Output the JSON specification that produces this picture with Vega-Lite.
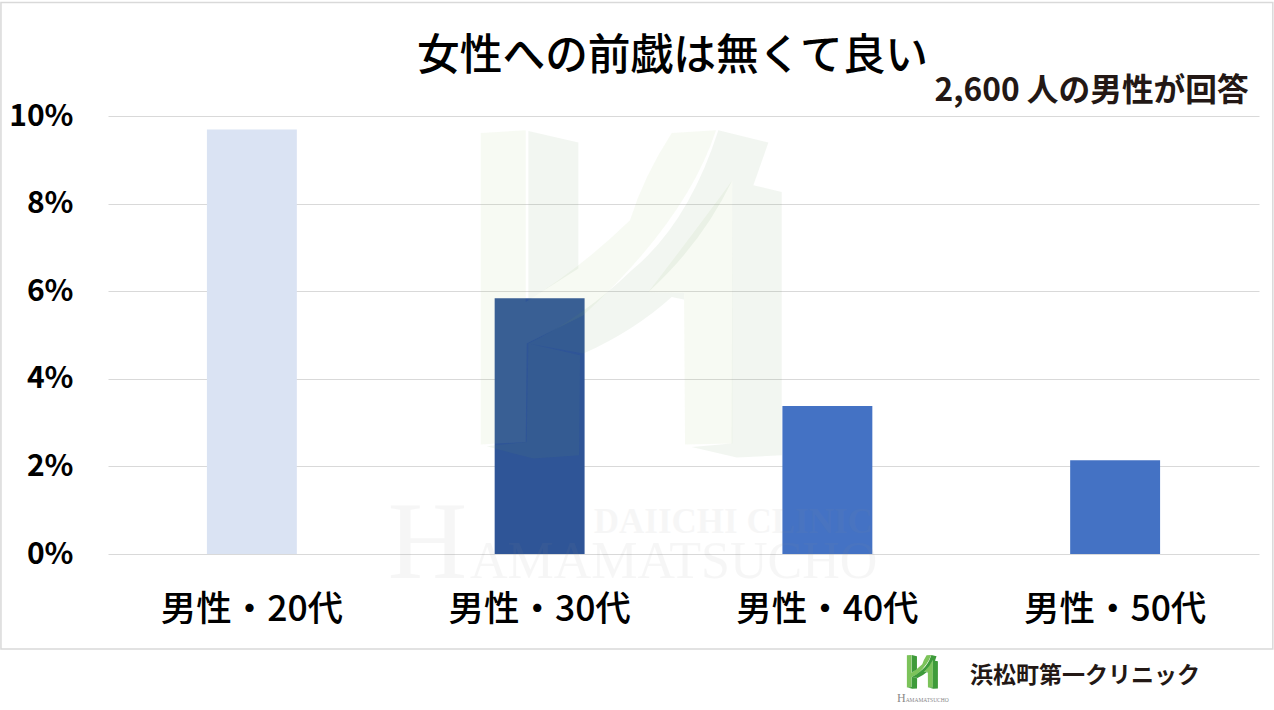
{
  "$schema": "https://vega.github.io/schema/vega-lite/v6.json",
  "description": "女性への前戯は無くて良い, by age group",
  "width": 1151,
  "height": 438,
  "autosize": "none",
  "padding": {"left": 108, "top": 116, "right": 15, "bottom": 156},
  "background": "white",
  "config": {"view": {"stroke": null}, "font": "Noto Sans CJK JP"},
  "resolve": {"scale": {"x": "independent"}},
  "layer": [
    {
      "data": {
        "values": [
          {"group": "男性・20代", "rate": 9.69},
          {"group": "男性・30代", "rate": 5.84},
          {"group": "男性・40代", "rate": 3.38},
          {"group": "男性・50代", "rate": 2.14}
        ]
      },
      "mark": "bar",
      "encoding": {
        "x": {
          "field": "group",
          "type": "nominal",
          "sort": null,
          "scale": {"paddingInner": 0.6875, "paddingOuter": 0.34375},
          "axis": {
            "title": null,
            "labelAngle": 0,
            "labelFont": "Noto Sans CJK JP",
            "labelFontSize": 35.5,
            "labelFontWeight": 500,
            "labelColor": "#000000",
            "labelPadding": 38,
            "labelLimit": 300,
            "domain": false,
            "ticks": false,
            "grid": false
          }
        },
        "y": {
          "field": "rate",
          "type": "quantitative",
          "scale": {"domain": [0, 10]},
          "axis": {
            "title": null,
            "values": [0, 2, 4, 6, 8, 10],
            "labelExpr": "datum.value + '%'",
            "labelFont": "Noto Sans CJK JP",
            "labelFontSize": 30,
            "labelFontWeight": "bold",
            "labelColor": "#000000",
            "labelPadding": 35,
            "domain": false,
            "ticks": false,
            "grid": true,
            "gridColor": "#D9D9D9",
            "gridWidth": 1
          }
        },
        "color": {
          "field": "group",
          "type": "nominal",
          "legend": null,
          "scale": {
            "domain": ["男性・20代", "男性・30代", "男性・40代", "男性・50代"],
            "range": ["#DAE3F3", "#2F5597", "#4472C4", "#4472C4"]
          }
        }
      }
    },
    {
      "data": {"values": [{}]},
      "mark": {"type": "rect", "fill": null, "stroke": "#D9D9D9", "strokeWidth": 1.5},
      "encoding": {
        "x": {"datum": -9.3, "type": "quantitative", "scale": {"domain": [0, 100]}, "axis": null},
        "x2": {"datum": 101.2},
        "y": {"datum": 12.59, "type": "quantitative", "scale": {"domain": [0, 10]}},
        "y2": {"datum": -2.17}
      }
    },
    {
      "data": {"values": [{}]},
      "mark": {
        "type": "point",
        "filled": true,
        "size": 111111,
        "color": "#A7C87A",
        "opacity": 0.09,
        "shape": "M-0.906,-0.964L-0.636,-0.98L-0.636,0.05Q-0.31,-0.15 -0.01,-0.44Q0.07,-0.7 0.24,-0.964L0.506,-0.98Q0.33,-0.44 -0.29,0.13L-0.63,0.3L-0.636,0.89L-0.906,0.906ZM0.1,-0.01Q0.4,-0.4 0.604,-0.68L0.604,0.9L0.32,0.906L0.314,-0.004Z"
      },
      "encoding": {
        "x": {"datum": 45.5, "type": "quantitative", "scale": {"domain": [0, 100]}, "axis": null},
        "y": {"datum": 5.945, "type": "quantitative", "scale": {"domain": [0, 10]}}
      }
    },
    {
      "data": {"values": [{}]},
      "mark": {
        "type": "point",
        "filled": true,
        "size": 111111,
        "color": "#6E9A5F",
        "opacity": 0.09,
        "shape": "M-0.62,-0.976L-0.32,-0.906L-0.32,-0.15L-0.62,0.04ZM0.52,-0.98L0.82,-0.906L0.73,-0.65L0.9,-0.61L0.9,0.97L0.63,0.984L0.36,0.92L0.6,0.9L0.604,-0.68Q0.42,-0.3 0.1,-0.01L0.314,-0.004L0.314,0.036L0.24,0.02Q0.02,0.22 -0.29,0.36L-0.62,0.3Q-0.29,0.14 0,-0.14Q0.34,-0.42 0.52,-0.98ZM-0.62,0.3L-0.31,0.37L-0.316,0.97L-0.59,0.99L-0.87,0.916L-0.63,0.89Z"
      },
      "encoding": {
        "x": {"datum": 45.5, "type": "quantitative", "scale": {"domain": [0, 100]}, "axis": null},
        "y": {"datum": 5.945, "type": "quantitative", "scale": {"domain": [0, 10]}}
      }
    },
    {
      "data": {"values": [{}]},
      "mark": {"type": "text", "text": "H", "font": "Liberation Serif", "fontSize": 110, "align": "left", "baseline": "alphabetic", "color": "#909090", "opacity": 0.07},
      "encoding": {
        "x": {"datum": 24.3, "type": "quantitative", "scale": {"domain": [0, 100]}, "axis": null},
        "y": {"datum": -0.55, "type": "quantitative", "scale": {"domain": [0, 10]}}
      }
    },
    {
      "data": {"values": [{}]},
      "mark": {"type": "text", "text": "AMAMATSUCHO", "font": "Liberation Serif", "fontSize": 52, "align": "left", "baseline": "alphabetic", "color": "#909090", "opacity": 0.07},
      "encoding": {
        "x": {"datum": 31.45, "type": "quantitative", "scale": {"domain": [0, 100]}, "axis": null},
        "y": {"datum": -0.55, "type": "quantitative", "scale": {"domain": [0, 10]}}
      }
    },
    {
      "data": {"values": [{}]},
      "mark": {"type": "text", "text": "DAIICHI CLINIC", "font": "Liberation Serif", "fontSize": 35, "fontWeight": "bold", "align": "left", "baseline": "alphabetic", "color": "#909090", "opacity": 0.07},
      "encoding": {
        "x": {"datum": 42.2, "type": "quantitative", "scale": {"domain": [0, 100]}, "axis": null},
        "y": {"datum": 0.48, "type": "quantitative", "scale": {"domain": [0, 10]}}
      }
    },
    {
      "data": {"values": [{}]},
      "mark": {"type": "text", "text": "女性への前戯は無くて良い", "font": "Noto Sans CJK JP", "fontSize": 42.7, "fontWeight": 500, "align": "center", "baseline": "middle", "color": "#000000"},
      "encoding": {
        "x": {"datum": 49.05, "type": "quantitative", "scale": {"domain": [0, 100]}, "axis": null},
        "y": {"datum": 11.35, "type": "quantitative", "scale": {"domain": [0, 10]}}
      }
    },
    {
      "data": {"values": [{}]},
      "mark": {"type": "text", "text": "2,600 人の男性が回答", "font": "Noto Sans CJK JP", "fontSize": 31.7, "fontWeight": "bold", "align": "right", "baseline": "middle", "color": "#231815"},
      "encoding": {
        "x": {"datum": 99.1, "type": "quantitative", "scale": {"domain": [0, 100]}, "axis": null},
        "y": {"datum": 10.58, "type": "quantitative", "scale": {"domain": [0, 10]}}
      }
    },
    {
      "data": {"values": [{}]},
      "mark": {"type": "text", "text": "浜松町第一クリニック", "font": "Noto Sans CJK JP", "fontSize": 23, "fontWeight": "bold", "align": "left", "baseline": "middle", "color": "#231815"},
      "encoding": {
        "x": {"datum": 74.9, "type": "quantitative", "scale": {"domain": [0, 100]}, "axis": null},
        "y": {"datum": -2.79, "type": "quantitative", "scale": {"domain": [0, 10]}}
      }
    },
    {
      "data": {"values": [{}]},
      "mark": {
        "type": "point",
        "filled": true,
        "size": 1180,
        "color": "#7CC35A",
        "opacity": 1,
        "shape": "M-0.906,-0.964L-0.636,-0.98L-0.636,0.05Q-0.31,-0.15 -0.01,-0.44Q0.07,-0.7 0.24,-0.964L0.506,-0.98Q0.33,-0.44 -0.29,0.13L-0.63,0.3L-0.636,0.89L-0.906,0.906ZM0.1,-0.01Q0.4,-0.4 0.604,-0.68L0.604,0.9L0.32,0.906L0.314,-0.004Z"
      },
      "encoding": {
        "x": {"datum": 70.76, "type": "quantitative", "scale": {"domain": [0, 100]}, "axis": null},
        "y": {"datum": -2.69, "type": "quantitative", "scale": {"domain": [0, 10]}}
      }
    },
    {
      "data": {"values": [{}]},
      "mark": {
        "type": "point",
        "filled": true,
        "size": 1180,
        "color": "#3E9B3A",
        "opacity": 1,
        "shape": "M-0.62,-0.976L-0.32,-0.906L-0.32,-0.15L-0.62,0.04ZM0.52,-0.98L0.82,-0.906L0.73,-0.65L0.9,-0.61L0.9,0.97L0.63,0.984L0.36,0.92L0.6,0.9L0.604,-0.68Q0.42,-0.3 0.1,-0.01L0.314,-0.004L0.314,0.036L0.24,0.02Q0.02,0.22 -0.29,0.36L-0.62,0.3Q-0.29,0.14 0,-0.14Q0.34,-0.42 0.52,-0.98ZM-0.62,0.3L-0.31,0.37L-0.316,0.97L-0.59,0.99L-0.87,0.916L-0.63,0.89Z"
      },
      "encoding": {
        "x": {"datum": 70.76, "type": "quantitative", "scale": {"domain": [0, 100]}, "axis": null},
        "y": {"datum": -2.69, "type": "quantitative", "scale": {"domain": [0, 10]}}
      }
    },
    {
      "data": {"values": [{}]},
      "mark": {"type": "text", "text": "H", "font": "Liberation Serif", "fontSize": 12, "align": "left", "baseline": "alphabetic", "color": "#888888"},
      "encoding": {
        "x": {"datum": 68.55, "type": "quantitative", "scale": {"domain": [0, 100]}, "axis": null},
        "y": {"datum": -3.39, "type": "quantitative", "scale": {"domain": [0, 10]}}
      }
    },
    {
      "data": {"values": [{}]},
      "mark": {"type": "text", "text": "AMAMATSUCHO", "font": "Liberation Serif", "fontSize": 5.5, "align": "left", "baseline": "alphabetic", "color": "#888888"},
      "encoding": {
        "x": {"datum": 69.3, "type": "quantitative", "scale": {"domain": [0, 100]}, "axis": null},
        "y": {"datum": -3.39, "type": "quantitative", "scale": {"domain": [0, 10]}}
      }
    }
  ]
}
